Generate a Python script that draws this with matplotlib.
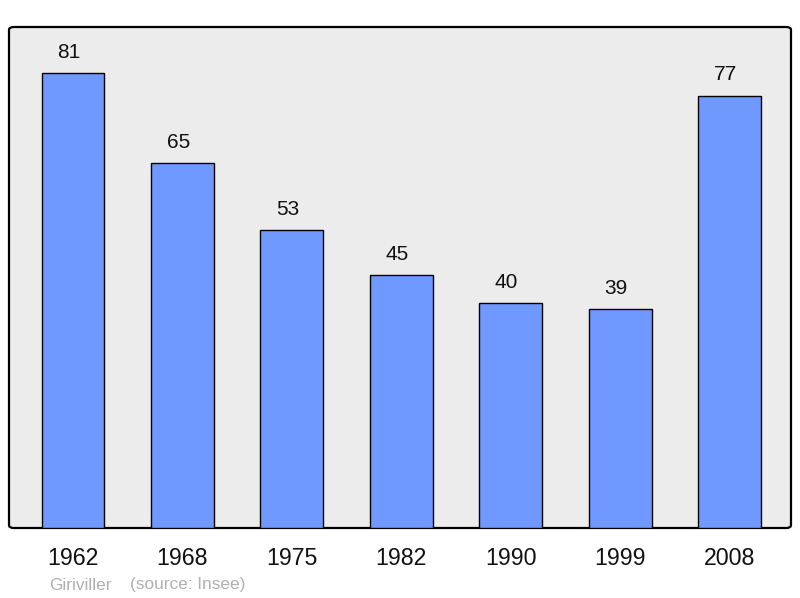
import matplotlib
matplotlib.use("Agg")
import matplotlib.pyplot as plt
from matplotlib.patches import FancyBboxPatch

years = ["1962", "1968", "1975", "1982", "1990", "1999", "2008"]
population = [81, 65, 53, 45, 40, 39, 77]

plt.rcParams['font.family'] = ['Liberation Sans', 'DejaVu Sans']

fig = plt.figure(figsize=(8, 5.98), dpi=100)
ax = fig.add_axes([9 / 800, 70 / 598, 782 / 800, 501 / 598])
ax.set_facecolor('none')

# rounded frame with grey fill
frame = FancyBboxPatch((0, 0), 1, 1, boxstyle='round,pad=0,rounding_size=0.006',
                       transform=ax.transAxes, facecolor='#ececec',
                       edgecolor='#000000', linewidth=1.6, zorder=0, clip_on=False)
ax.add_patch(frame)

x = list(range(len(years)))
ax.bar(x, population, width=0.575, color='#7099ff', edgecolor='#000000',
       linewidth=1.0, zorder=2)

for xi, v in zip(x, population):
    ax.annotate(str(v), (xi, v), xytext=(-3, 15), textcoords='offset points',
                ha='center', va='center', fontsize=15, color='#111111')

ax.set_xlim(-0.585, 6.56)
ax.set_ylim(0, 89.2)
for s in ax.spines.values():
    s.set_visible(False)
ax.set_yticks([])
ax.set_xticks(x)
ax.set_xticklabels(years, fontsize=16.7, color='#111111')
ax.tick_params(axis='x', length=0, pad=13.5)

fig.text(49 / 800, 1 - 585 / 598, 'Giriviller', fontsize=12.4, color='#b0b0b0',
         ha='left', va='center')
fig.text(130 / 800, 1 - 585 / 598, '(source: Insee)', fontsize=12.4, color='#b0b0b0',
         ha='left', va='center')

fig.savefig('out.png', dpi=100, facecolor='white')
